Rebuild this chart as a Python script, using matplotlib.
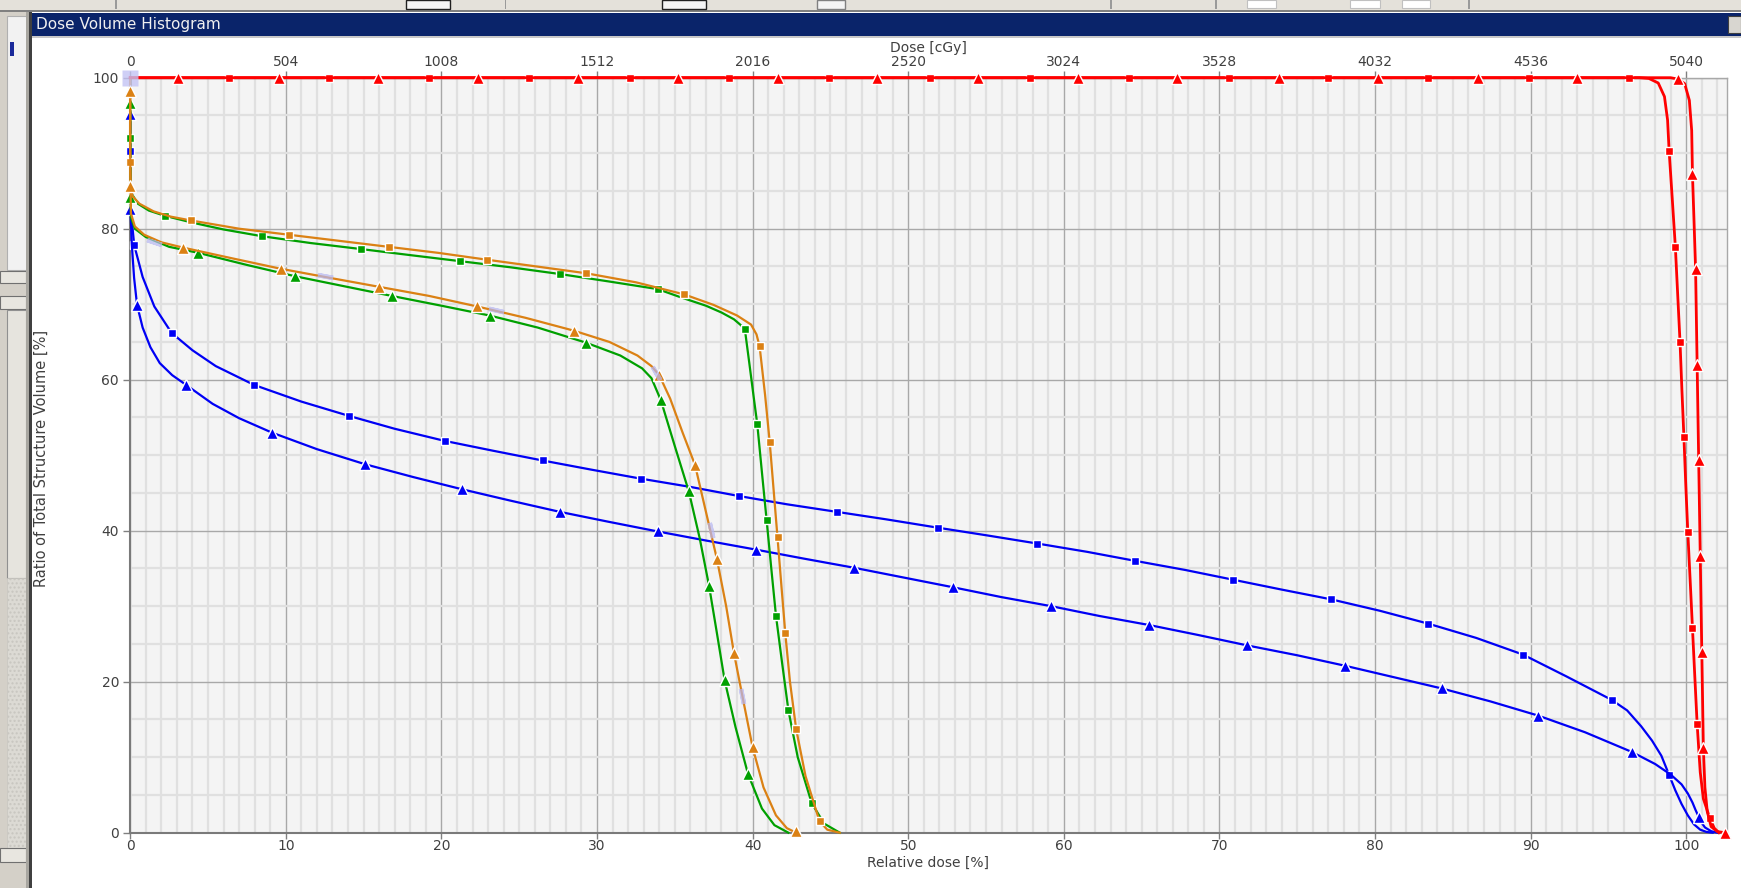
import numpy as np
import matplotlib
matplotlib.use("Agg")
import matplotlib.pyplot as plt
from matplotlib.patches import Rectangle
from matplotlib.ticker import MultipleLocator

# ---------------- data (dose in % of prescription, volume in %) ----------------
x_ticks = [0, 10, 20, 30, 40, 50, 60, 70, 80, 90, 100]
top_tick_labels = ["0", "504", "1008", "1512", "2016", "2520", "3024", "3528", "4032", "4536", "5040"]
y_ticks = [0, 20, 40, 60, 80, 100]

# Blue, squares
bs_dose = [0, 0, 0.02, 0.08, 0.26, 0.8, 1.55, 2.66, 4.0, 5.5, 7.97, 11.0, 14.07, 17.0, 20.2, 23.3, 26.5,
           29.6, 32.8, 36.0, 39.1, 42.2, 45.4, 48.6, 51.9, 55.0, 58.3, 61.5, 64.6, 67.8, 70.9, 74.0,
           77.2, 80.3, 83.4, 86.5, 89.5, 92.3, 95.2, 96.2, 97.1, 97.8, 98.4, 98.9, 99.3, 99.7, 100.1,
           100.5, 100.9, 101.3, 101.7]
bs_vol = [100, 90.3, 84, 81.5, 77.8, 73.6, 69.7, 66.2, 63.9, 61.8, 59.3, 57.1, 55.2, 53.5, 51.9, 50.6, 49.3,
          48.1, 46.9, 45.8, 44.6, 43.5, 42.5, 41.5, 40.4, 39.4, 38.3, 37.2, 36.0, 34.8, 33.5, 32.2,
          30.9, 29.4, 27.7, 25.8, 23.6, 20.7, 17.6, 16.2, 14.1, 12.2, 10.2, 7.65, 5.6, 3.8, 2.3,
          1.1, 0.4, 0.1, 0]
bs_mk_dose = [0, 0.26, 2.66, 7.97, 14.07, 20.2, 26.5, 32.8, 39.1, 45.4, 51.9, 58.3, 64.6, 70.9, 77.2, 83.4, 89.5, 95.2, 98.9]
bs_mk_vol = [90.3, 77.8, 66.2, 59.3, 55.2, 51.9, 49.3, 46.9, 44.6, 42.5, 40.4, 38.3, 36.0, 33.5, 30.9, 27.7, 23.6, 17.6, 7.65]

# Blue, triangles
bt_dose = [0, 0, 0, 0.02, 0.1, 0.25, 0.44, 0.8, 1.3, 1.9, 2.7, 3.6, 5.3, 7.0, 9.1, 12.0, 15.1, 18.2, 21.3, 24.4,
           27.6, 30.7, 33.9, 37.0, 40.2, 43.3, 46.5, 49.7, 52.9, 56.0, 59.2, 62.3, 65.5, 68.6, 71.8, 75.0,
           78.1, 81.2, 84.3, 87.4, 90.5, 93.5, 96.5, 98.0, 99.0, 99.7, 100.1, 100.4, 100.6, 100.8, 101.0,
           101.2, 101.6, 102.0]
bt_vol = [100, 95.2, 88, 82.6, 78, 73.5, 69.9, 66.9, 64.3, 62.2, 60.6, 59.3, 56.8, 54.9, 53.0, 50.8, 48.8, 47.1, 45.5, 44.0,
          42.5, 41.2, 39.9, 38.7, 37.5, 36.3, 35.1, 33.8, 32.5, 31.2, 30.0, 28.7, 27.5, 26.2, 24.8, 23.5,
          22.1, 20.6, 19.1, 17.4, 15.5, 13.3, 10.7, 9.1, 7.7, 6.4, 5.2, 4.0, 3.0, 2.1, 1.3,
          0.7, 0.2, 0]
bt_mk_dose = [0, 0, 0.44, 3.6, 9.1, 15.1, 21.3, 27.6, 33.9, 40.2, 46.5, 52.9, 59.2, 65.5, 71.8, 78.1, 84.3, 90.5, 96.5, 100.8]
bt_mk_vol = [95.2, 82.6, 69.9, 59.3, 53.0, 48.8, 45.5, 42.5, 39.9, 37.5, 35.1, 32.5, 30.0, 27.5, 24.8, 22.1, 19.1, 15.5, 10.7, 2.1]

# Green, squares
gs_dose = [0, 0, 0.02, 0.1, 0.5, 1.2, 2.24, 4.0, 6.0, 8.48, 11.6, 14.85, 18.0, 21.2, 24.4, 27.6, 30.8,
           33.9, 35.4, 37.0, 38.0, 38.8, 39.2, 39.5, 39.8, 40.05, 40.3, 40.6, 40.9, 41.2, 41.5, 41.9,
           42.3, 42.9, 43.8, 44.6, 45.6]
gs_vol = [100, 92, 86, 84.6, 83.3, 82.4, 81.7, 80.8, 79.9, 79.0, 78.1, 77.3, 76.5, 75.7, 74.9, 74.0, 73.0,
          72.0, 70.9, 69.8, 68.9, 68.0, 67.3, 66.7, 62, 58, 54.1, 47.7, 41.4, 35, 28.75, 22.4,
          16.2, 10, 3.9, 1.2, 0]
gs_mk_dose = [0, 2.24, 8.48, 14.85, 21.2, 27.6, 33.9, 39.5, 40.3, 40.9, 41.5, 42.3, 43.8]
gs_mk_vol = [92, 81.7, 79.0, 77.3, 75.7, 74.0, 72.0, 66.7, 54.1, 41.4, 28.75, 16.2, 3.9]

# Green, triangles
gt_dose = [0, 0, 0, 0.02, 0.05, 0.3, 1.0, 2.5, 4.38, 7.5, 10.6, 13.7, 16.8, 20.0, 23.1, 26.2, 29.3,
           31.5, 32.9, 33.5, 34.1, 35.0, 35.9, 36.6, 37.2, 37.7, 38.2, 38.9, 39.7, 40.6, 41.4, 42.3]
gt_vol = [100, 96.7, 90, 84.2, 81.5, 80.0, 78.9, 77.6, 76.8, 75.2, 73.7, 72.4, 71.1, 69.8, 68.5, 66.9, 64.9,
          63.2, 61.5, 60.2, 57.3, 51.2, 45.2, 39, 32.7, 26.5, 20.2, 14, 7.8, 3.2, 1.0, 0]
gt_mk_dose = [0, 0, 4.38, 10.6, 16.8, 23.1, 29.3, 34.1, 35.9, 37.2, 38.2, 39.7]
gt_mk_vol = [96.7, 84.2, 76.8, 73.7, 71.1, 68.5, 64.9, 57.3, 45.2, 32.7, 20.2, 7.8]

# Orange, squares
os_dose = [0, 0, 0.02, 0.15, 0.6, 1.5, 2.6, 3.88, 7.0, 10.2, 13.4, 16.6, 19.8, 22.9, 26.1, 29.3, 32.5,
           35.6, 37.5, 39.0, 39.9, 40.25, 40.45, 40.8, 41.1, 41.35, 41.6, 41.85, 42.1, 42.4, 42.8, 43.4,
           44.3, 44.8, 45.6]
os_vol = [100, 88.8, 86, 84.3, 83.3, 82.3, 81.6, 81.1, 80.0, 79.2, 78.4, 77.6, 76.8, 75.9, 75.0, 74.1, 72.9,
          71.3, 69.9, 68.5, 67.3, 66.0, 64.4, 58, 51.7, 45.4, 39.1, 32.7, 26.4, 20, 13.7, 7.5,
          1.5, 0.4, 0]
os_mk_dose = [0, 3.88, 10.2, 16.6, 22.9, 29.3, 35.6, 40.45, 41.1, 41.6, 42.1, 42.8, 44.3]
os_mk_vol = [88.8, 81.1, 79.2, 77.6, 75.9, 74.1, 71.3, 64.4, 51.7, 39.1, 26.4, 13.7, 1.5]

# Orange, triangles
ot_dose = [0, 0, 0, 0.02, 0.05, 0.3, 0.9, 2.0, 3.39, 6.5, 9.66, 12.8, 16.0, 19.2, 22.3, 25.4, 28.5,
           30.8, 32.6, 33.5, 34.0, 34.7, 35.5, 36.3, 37.0, 37.7, 38.3, 38.8, 39.4, 40.0, 40.7, 41.5,
           42.2, 42.8]
ot_vol = [100, 98.3, 90, 85.7, 82, 80.3, 79.2, 78.2, 77.5, 76.1, 74.7, 73.5, 72.3, 71.1, 69.7, 68.2, 66.5,
          65.0, 63.2, 61.8, 60.6, 57.5, 53, 48.7, 42.5, 36.3, 30, 23.8, 17.5, 11.3, 6.0, 2.3,
          0.6, 0]
ot_mk_dose = [0, 0, 3.39, 9.66, 16.0, 22.3, 28.5, 34.0, 36.3, 37.7, 38.8, 40.0, 42.8]
ot_mk_vol = [98.3, 85.7, 77.5, 74.7, 72.3, 69.7, 66.5, 60.6, 48.7, 36.3, 23.8, 11.3, 0.2]

# Red, squares
rs_dose = [0, 97.0, 97.6, 98.2, 98.6, 98.8, 98.9, 99.1, 99.3, 99.45, 99.6, 99.72, 99.85, 99.97, 100.1,
           100.25, 100.4, 100.55, 100.7, 100.9, 101.1, 101.5, 101.8, 102.1]
rs_vol = [100, 100, 99.9, 99.3, 97.5, 94.4, 90.3, 84, 77.6, 71.3, 65, 58.7, 52.4, 46.1, 39.8,
          33.5, 27.1, 20.7, 14.4, 8, 4.5, 2.0, 0.6, 0]
rs_mk_dose = [6.35, 12.8, 19.2, 25.6, 32.1, 38.5, 44.9, 51.4, 57.8, 64.2, 70.6, 77.0, 83.4, 89.9, 96.35,
              98.9, 99.3, 99.6, 99.85, 100.1, 100.4, 100.7, 101.5]
rs_mk_vol = [100] * 15 + [90.3, 77.6, 65, 52.4, 39.8, 27.1, 14.4, 2.0]

# Red, triangles
rt_dose = [0, 99.0, 99.5, 99.9, 100.2, 100.35, 100.4, 100.5, 100.6, 100.65, 100.7, 100.75, 100.8, 100.85,
           100.9, 100.95, 101.0, 101.05, 101.1, 101.2, 101.35, 101.6, 102.0, 102.5]
rt_vol = [100, 100, 99.8, 99.2, 97, 93, 87.2, 81, 74.7, 68.3, 62.0, 55.6, 49.3, 43,
          36.7, 30.3, 24.0, 17.6, 11.2, 6, 2.8, 0.8, 0.15, 0]
rt_mk_dose = [3.05, 9.55, 15.95, 22.35, 28.8, 35.2, 41.6, 48.0, 54.5, 60.9, 67.3, 73.8, 80.2, 86.6, 93.0,
              99.5, 100.4, 100.6, 100.7, 100.8, 100.9, 101.0, 101.1, 102.5]
rt_mk_vol = [100] * 15 + [99.8, 87.2, 74.7, 62.0, 49.3, 36.7, 24.0, 11.2, 0]

# faint selection marks along the orange-triangle curve
ghost_dose = [1.55, 12.5, 23.5, 33.8, 37.3, 39.3]
ghost_vol = [78.2, 73.8, 69.2, 60.9, 40.1, 18.1]

# ---------------- figure / window chrome ----------------
W, H = 1741, 888
fig = plt.figure(figsize=(W / 100, H / 100), dpi=100)
fig.patch.set_facecolor("#D4D0C8")


def rect(x0, y0, x1, y1, fc, ec="none", lw=0, hatch=None):
    r = Rectangle((x0 / W, 1 - y1 / H), (x1 - x0) / W, (y1 - y0) / H, transform=fig.transFigure,
                  facecolor=fc, edgecolor=ec, linewidth=lw, zorder=-10, hatch=hatch)
    fig.patches.append(r)


# top toolbar strip
rect(0, 0, W, 11, "#E4E1DA")
rect(0, 10, W, 12, "#808080")
rect(406, 0, 450, 9, "#F4F4F4", ec="#202020", lw=1)
rect(662, 0, 706, 9, "#F4F4F4", ec="#202020", lw=1)
rect(817, 0, 845, 9, "#F4F4F4", ec="#808080", lw=1)
for sx in [115, 505, 1110, 1215, 1468]:
    rect(sx, 0, sx + 1.5, 9, "#9A9A9A")
rect(1247, 0, 1276, 8, "#FFFFFF", ec="#C0C0C0", lw=0.8)
rect(1350, 0, 1380, 8, "#FFFFFF", ec="#C0C0C0", lw=0.8)
rect(1402, 0, 1430, 8, "#FFFFFF", ec="#C0C0C0", lw=0.8)

# left strip
rect(0, 12, 28, H, "#D4D0C8")
rect(7, 16, 27, 270, "#F2F2F2", ec="#B0B0B0", lw=0.8)
rect(10, 42, 14, 56, "#1A2A9A")
rect(0, 271, 26, 283, "#E8E6E0", ec="#707070", lw=0.8)
rect(0, 296, 26, 309, "#E8E6E0", ec="#707070", lw=0.8)
rect(7, 310, 26, 578, "#E6E4DE", ec="#909090", lw=0.8)
rect(7, 578, 26, 848, "#DCDAD4", ec="#C8C6C0", lw=0.5, hatch="....")
rect(0, 848, 26, 862, "#E8E6E0", ec="#707070", lw=0.8)
rect(26, 12, 29, H, "#A8A6A0")

# panel and title bar
rect(29, 12, W, H, "#FFFFFF")
rect(29, 12, 32, H, "#404040")
rect(32, 13, W, 37, "#0A246A")
rect(32, 36, W, 38, "#C8C8C8")
rect(1728, 16, W, 33, "#D8D6D0", ec="#404040", lw=0.8)
fig.text(36 / W, 1 - 25 / H, "Dose Volume Histogram", color="#F0F0F0", fontsize=11,
         family="DejaVu Sans", va="center", ha="left")

# ---------------- axes ----------------
L, R, T, B = 130.2, 1726.7, 77.7, 832.7
ax = fig.add_axes([L / W, 1 - B / H, (R - L) / W, (B - T) / H])
ax.set_facecolor("#F4F4F4")
ax.set_xlim(0, 102.6)
ax.set_ylim(0, 100)

ax.xaxis.set_major_locator(MultipleLocator(10))
ax.xaxis.set_minor_locator(MultipleLocator(1))
ax.yaxis.set_major_locator(MultipleLocator(20))
ax.yaxis.set_minor_locator(MultipleLocator(5))
ax.set_xticks(x_ticks)
ax.set_yticks(y_ticks)
ax.grid(which="minor", color="#E0E0E0", linewidth=1.6, zorder=0)
ax.grid(which="major", color="#A8A8A8", linewidth=1.0, zorder=0)
ax.set_axisbelow(True)
ax.tick_params(which="minor", length=0)
ax.tick_params(which="major", length=5, width=1, color="#808080", labelsize=10,
               labelcolor="#404040", pad=3)
ax.tick_params(axis="x", which="major", length=4, pad=0.5)
for side in ["left", "bottom"]:
    ax.spines[side].set_color("#7A7A7A")
    ax.spines[side].set_linewidth(1.5)
for side in ["top", "right"]:
    ax.spines[side].set_color("#A8A8A8")
    ax.spines[side].set_linewidth(1.0)

sec = ax.secondary_xaxis("top", functions=(lambda d: d * 50.4, lambda c: c / 50.4))
sec.set_xticks([float(t) for t in top_tick_labels])
sec.set_xticklabels(top_tick_labels)
sec.tick_params(length=5, width=1, color="#808080", labelsize=10, labelcolor="#404040", pad=1)
sec.spines["top"].set_visible(False)

xc = (L + R) / 2
fig.text(41 / W, 1 - 458 / H, "Ratio of Total Structure Volume [%]", rotation=90, fontsize=10.5,
         color="#404040", ha="center", va="center")
fig.text(xc / W, 1 - 863 / H, "Relative dose [%]", fontsize=10, color="#404040",
         ha="center", va="center")
fig.text(xc / W, 1 - 48 / H, "Dose [cGy]", fontsize=10, color="#404040",
         ha="center", va="center")

BLUE, GREEN, ORANGE, RED = "#0000F5", "#00A000", "#DB8114", "#FF0000"
series = [
    (bs_dose, bs_vol, bs_mk_dose, bs_mk_vol, BLUE, "s"),
    (bt_dose, bt_vol, bt_mk_dose, bt_mk_vol, BLUE, "^"),
    (gs_dose, gs_vol, gs_mk_dose, gs_mk_vol, GREEN, "s"),
    (gt_dose, gt_vol, gt_mk_dose, gt_mk_vol, GREEN, "^"),
    (os_dose, os_vol, os_mk_dose, os_mk_vol, ORANGE, "s"),
    (ot_dose, ot_vol, ot_mk_dose, ot_mk_vol, ORANGE, "^"),
    (rs_dose, rs_vol, rs_mk_dose, rs_mk_vol, RED, "s"),
    (rt_dose, rt_vol, rt_mk_dose, rt_mk_vol, RED, "^"),
]
z = 3
for d, v, md, mv, col, mk in series:
    lw = 2.0 if col == RED else 1.6
    ax.plot(d, v, color=col, linewidth=lw, solid_joinstyle="round", zorder=z, clip_on=False)
    ms = 8.5 if mk == "^" else 6.2
    ax.plot(md, mv, linestyle="none", marker=mk, markersize=ms, markerfacecolor=col,
            markeredgecolor="white", markeredgewidth=1.0, zorder=z + 0.5, clip_on=False)
    z += 1

# faint selection marks, oriented along the orange-triangle curve
fig.canvas.draw()
pts = ax.transData.transform(np.column_stack([ot_dose, ot_vol]))
gpts = ax.transData.transform(np.column_stack([ghost_dose, ghost_vol]))
for (gx, gy), gd, gv in zip(gpts, ghost_dose, ghost_vol):
    i = int(np.argmin(np.hypot(pts[:, 0] - gx, pts[:, 1] - gy)))
    i0, i1 = max(i - 1, 0), min(i + 1, len(pts) - 1)
    ang = np.degrees(np.arctan2(pts[i1, 1] - pts[i0, 1], pts[i1, 0] - pts[i0, 0]))
    ax.plot([gd], [gv], linestyle="none", marker=(2, 2, ang - 90), markersize=11,
            markeredgecolor="#B8B8F2", markeredgewidth=3.2, alpha=0.7, zorder=20)
ax.plot([0], [100], linestyle="none", marker="s", markersize=11, markerfacecolor="#C4C4F4",
        markeredgecolor="none", alpha=0.8, zorder=20, clip_on=False)

fig.savefig("out.png", dpi=100, facecolor=fig.get_facecolor())
